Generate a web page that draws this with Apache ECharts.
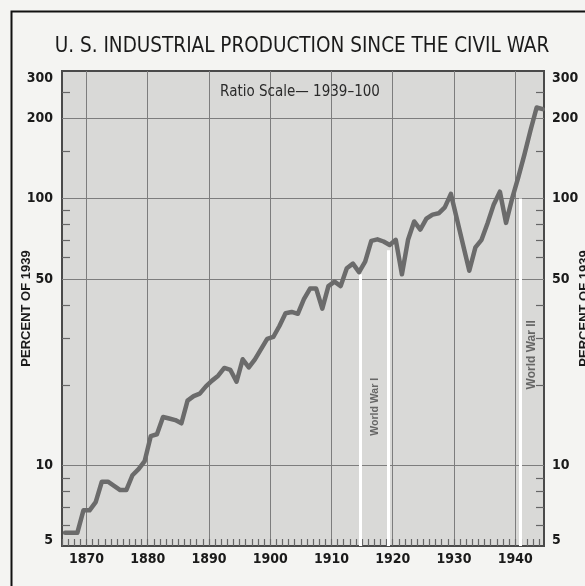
<!DOCTYPE html>
<html>
<head>
<meta charset="utf-8">
<title>U.S. Industrial Production Since the Civil War</title>
<style>
  html, body { margin: 0; padding: 0; background: #f4f4f2; }
  #main { width: 585px; height: 586px; }
</style>
</head>
<body>
<div id="main"></div>
<script src="https://cdn.jsdelivr.net/npm/echarts@6/dist/echarts.min.js"></script>
<script>
// yearly index, percent of 1939
const years = [
  1866, 1867, 1868, 1869, 1870, 1871, 1872, 1873, 1874, 1875,
  1876, 1877, 1878, 1879, 1880, 1881, 1882, 1883, 1884, 1885,
  1886, 1887, 1888, 1889, 1890, 1891, 1892, 1893, 1894, 1895,
  1896, 1897, 1898, 1899, 1900, 1901, 1902, 1903, 1904, 1905,
  1906, 1907, 1908, 1909, 1910, 1911, 1912, 1913, 1914, 1915,
  1916, 1917, 1918, 1919, 1920, 1921, 1922, 1923, 1924, 1925,
  1926, 1927, 1928, 1929, 1930, 1931, 1932, 1933, 1934, 1935,
  1936, 1937, 1938, 1939, 1940, 1941, 1942, 1943, 1944
]
const production = [
  5.6, 5.6, 5.6, 6.8, 6.8, 7.3, 8.7, 8.7, 8.4, 8.1,
  8.1, 9.2, 9.7, 10.4, 12.9, 13.1, 15.2, 15.0, 14.8, 14.4,
  17.5, 18.2, 18.6, 19.8, 20.8, 21.7, 23.2, 22.8, 20.6, 25.0,
  23.3, 25.0, 27.3, 29.8, 30.3, 33.3, 37.2, 37.6, 37.0, 42.0,
  46.0, 46.0, 38.7, 47.0, 48.8, 47.0, 54.8, 57.0, 53.0, 58.0,
  69.4, 70.3, 69.0, 67.0, 70.0, 52.0, 70.0, 82.0, 76.5, 84.0,
  87.0, 88.0, 92.6, 104.0, 83.4, 66.8, 53.6, 65.6, 70.0, 81.0,
  95.0, 106.0, 81.0, 100.0, 120.0, 146.0, 180.0, 219.0, 216.0
]

// axis ticks
const yLabels = [5, 10, 50, 100, 200, 300]
const yGrid = [10, 50, 100, 200]
const yMinorTicks = [6, 7, 8, 9, 20, 30, 40, 60, 70, 80, 90, 150, 250]
const xLabels = [1870, 1880, 1890, 1900, 1910, 1920, 1930, 1940]

// war markers (white bars) and their captions
const warDates = [1914.7, 1919.2, 1940.8]
const warTops = [52, 64, 100]
const warNames = ['World War I', 'World War II']
const warNameX = [1917.1, 1942.7]
const warNameY = [16.6, 26]
const warNameSize = [10.5, 12]

const labelFont = "'Liberation Sans Narrow', 'DejaVu Sans Condensed', 'Liberation Sans', sans-serif"
const titleFont = "'Liberation Sans Narrow', 'DejaVu Sans Condensed', 'Liberation Sans', sans-serif"

// points are plotted at mid-year
const seriesData = years.map((y, i) => [y + 0.5, production[i]])

const chart = echarts.init(document.getElementById('main'))

function yAxisBase (position) {
  return {
    type: 'log',
    logBase: 10,
    min: 5,
    max: 300,
    position: position,
    axisLine: { show: false }
  }
}

// the end labels sit a little inside the frame
function yLabelFormat (v) {
  if (v === 300) return '{top|' + v + '}'
  if (v === 5) return '{bot|' + v + '}'
  return String(v)
}
const yLabelRich = {
  top: { padding: [14, 0, 0, 0], fontSize: 14, fontWeight: 'bold', fontFamily: labelFont, color: '#1a1a1a' },
  bot: { padding: [0, 0, 12, 0], fontSize: 14, fontWeight: 'bold', fontFamily: labelFont, color: '#1a1a1a' }
}

const nameStyle = { color: '#1a1a1a', fontSize: 13, fontWeight: 'bold', fontFamily: 'Liberation Sans, sans-serif' }

const option = {
  animation: false,
  backgroundColor: '#f4f4f2',
  graphic: [
    // outer frame of the figure
    {
      type: 'rect',
      shape: { x: 11.5, y: 11.5, width: 620, height: 620 },
      style: { fill: 'none', stroke: '#111', lineWidth: 2 },
      silent: true
    },
    {
      type: 'text',
      x: 302,
      y: 47,
      style: {
        text: 'U. S. INDUSTRIAL PRODUCTION SINCE THE CIVIL WAR',
        align: 'center',
        verticalAlign: 'middle',
        font: '20.5px ' + titleFont,
        fill: '#1a1a1a'
      }
    },
    {
      type: 'text',
      x: 300,
      y: 92,
      z: 10,
      style: {
        text: 'Ratio Scale\u2014 1939\u2013100',
        align: 'center',
        verticalAlign: 'middle',
        font: '15px ' + titleFont,
        fill: '#2a2a2a'
      }
    }
  ],
  grid: {
    left: 62,
    top: 71,
    width: 482,
    height: 475,
    outerBoundsMode: 'none',
    containLabel: false,
    show: true,
    backgroundColor: '#d9d9d7',
    borderColor: '#4a4a4a',
    borderWidth: 2
  },
  xAxis: [
    {
      type: 'value',
      min: 1866,
      max: 1944.7,
      position: 'bottom',
      axisLine: { show: false },
      axisTick: { show: false, customValues: xLabels },
      axisLabel: {
        customValues: xLabels,
        formatter: (v) => String(v),
        margin: 6,
        color: '#1a1a1a',
        fontSize: 14,
        fontWeight: 'bold',
        fontFamily: labelFont
      },
      splitLine: { show: true, lineStyle: { color: '#7d7d7d', width: 1 } }
    },
    {
      // yearly tick marks along the bottom
      type: 'value',
      min: 1866,
      max: 1944.7,
      position: 'bottom',
      axisLine: { show: false },
      axisTick: {
        show: true,
        inside: true,
        length: 7,
        customValues: years,
        lineStyle: { color: '#666', width: 1.2 }
      },
      axisLabel: { show: false },
      splitLine: { show: false }
    }
  ],
  yAxis: [
    Object.assign(yAxisBase('left'), {
      name: 'PERCENT OF 1939',
      nameLocation: 'middle',
      nameRotate: 90,
      nameGap: 29,
      nameMoveOverlap: false,
      nameTextStyle: nameStyle,
      axisTick: { show: false, customValues: yGrid },
      axisLabel: {
        customValues: yLabels,
        formatter: yLabelFormat,
        rich: yLabelRich,
        margin: 9,
        color: '#1a1a1a',
        fontSize: 14,
        fontWeight: 'bold',
        fontFamily: labelFont
      },
      splitLine: { show: true, lineStyle: { color: '#7d7d7d', width: 1 } }
    }),
    Object.assign(yAxisBase('left'), {
      axisTick: {
        show: true,
        inside: true,
        length: 8,
        customValues: yMinorTicks,
        lineStyle: { color: '#666', width: 1.2 }
      },
      axisLabel: { show: false },
      splitLine: { show: false }
    }),
    Object.assign(yAxisBase('right'), {
      name: 'PERCENT OF 1939',
      nameLocation: 'middle',
      nameRotate: 90,
      nameGap: 34,
      nameMoveOverlap: false,
      nameTextStyle: nameStyle,
      axisTick: { show: false, customValues: yGrid },
      axisLabel: {
        customValues: yLabels,
        formatter: yLabelFormat,
        rich: yLabelRich,
        margin: 8,
        color: '#1a1a1a',
        fontSize: 14,
        fontWeight: 'bold',
        fontFamily: labelFont
      },
      splitLine: { show: false }
    }),
    Object.assign(yAxisBase('right'), {
      axisTick: {
        show: true,
        inside: true,
        length: 8,
        customValues: yMinorTicks,
        lineStyle: { color: '#666', width: 1.2 }
      },
      axisLabel: { show: false },
      splitLine: { show: false }
    })
  ],
  series: [
    {
      name: 'Industrial production',
      type: 'line',
      xAxisIndex: 0,
      yAxisIndex: 0,
      data: seriesData,
      symbol: 'none',
      z: 5,
      lineStyle: { color: '#6b6b6b', width: 4.5, join: 'round', cap: 'round' },
      markLine: {
        silent: true,
        symbol: ['none', 'none'],
        label: { show: false },
        lineStyle: { color: '#ffffff', width: 3, type: 'solid', opacity: 1 },
        data: warDates.map((d, i) => [{ coord: [d, 5] }, { coord: [d, warTops[i]] }])
      }
    },
    {
      name: 'War captions',
      type: 'scatter',
      xAxisIndex: 0,
      yAxisIndex: 0,
      symbol: 'circle',
      symbolSize: 2,
      itemStyle: { color: 'rgba(0,0,0,0)' },
      silent: true,
      z: 6,
      label: {
        show: true,
        position: 'inside',
        rotate: 90,
        formatter: (p) => p.name,
        color: '#4a4a4a',
        fontWeight: 'bold',
        fontFamily: 'Liberation Sans, sans-serif'
      },
      labelLayout: { hideOverlap: false },
      data: warNames.map((n, i) => ({
        name: n,
        value: [warNameX[i], warNameY[i]],
        label: { fontSize: warNameSize[i] }
      }))
    }
  ]
}

chart.setOption(option)
</script>
</body>
</html>
